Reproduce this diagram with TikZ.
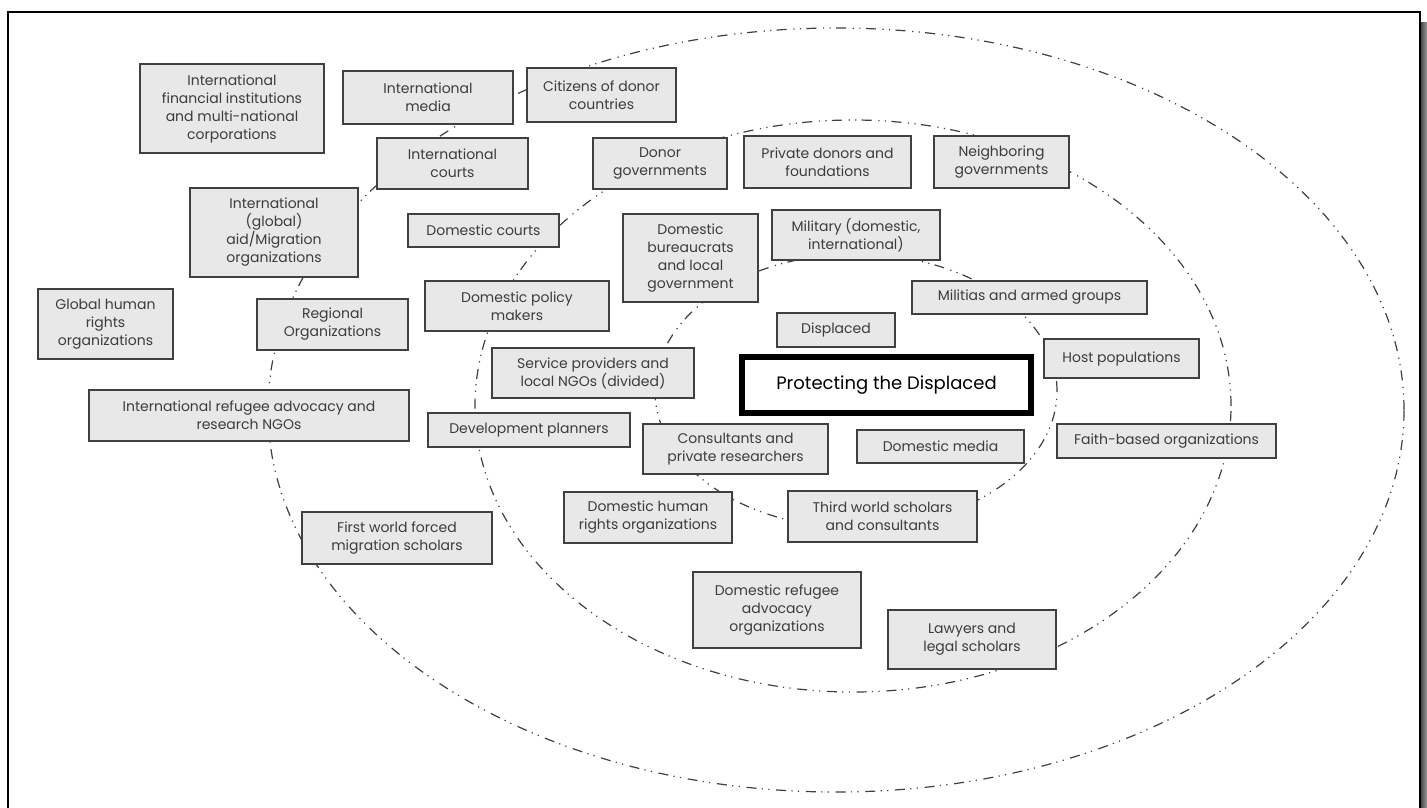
\documentclass[tikz,border=0pt]{standalone}
\usepackage{fontspec}
\setmainfont{Poppins}
\usetikzlibrary{positioning}
\definecolor{boxfill}{RGB}{232,232,232}
\definecolor{boxline}{RGB}{64,64,64}
\definecolor{boxtext}{RGB}{60,60,60}
\tikzset{
  gbox/.style={draw=boxline, fill=boxfill, line width=1.1pt, inner sep=0pt,
    align=center, text=boxtext, font=\fontsize{10.5}{13.5}\selectfont},
  mainbox/.style={draw=black, fill=white, line width=3.8pt, inner sep=0pt,
    align=center, text=black, font=\fontsize{13.5}{16}\selectfont},
  ring/.style={draw=black!75, line width=0.9pt,
    dash pattern=on 7.5pt off 4pt on 0.9pt off 4pt on 0.9pt off 5pt},
}
\newcommand\mybx[7][gbox]{%
  \pgfmathsetmacro\bxcx{(#3+#5)/2}%
  \pgfmathsetmacro\bxcy{(#4+#6)/2}%
  \pgfmathsetmacro\bxw{(#5-#3)*0.75}%
  \pgfmathsetmacro\bxh{(#6-#4)*0.75}%
  \node[#1, minimum width=\bxw pt, minimum height=\bxh pt] (#2) at (\bxcx,\bxcy) {#7};}
\begin{document}
\begin{tikzpicture}[x=0.75pt, y=-0.75pt]
\useasboundingbox (0,0) rectangle (1427,807);
\fill[white] (0,0) rectangle (1427,807);
% frame and shadow
\fill[left color=black!70, right color=black!40] (1421,22) rectangle (1427,807);
\draw[line width=1.1pt] (8,808) -- (8,12) -- (1420,12) -- (1420,808);
% rings
\draw[ring] (836,410) ellipse [x radius=426pt, y radius=286.5pt];
\draw[ring] (853,406) ellipse [x radius=283.5pt, y radius=214.5pt];
\draw[ring] (856,391) ellipse [x radius=150.75pt, y radius=102.75pt];
% boxes
\mybx{ifi}{140}{64}{324}{153}{International\\financial institutions\\and multi-national\\corporations}
\mybx{imedia}{343}{71}{513}{124}{International\\media}
\mybx{citizens}{527}{68}{676}{122}{Citizens of donor\\countries}
\mybx{icourts}{377}{138}{528}{189}{International\\courts}
\mybx{donorgov}{593}{138}{727}{189}{Donor\\governments}
\mybx{private}{744}{136}{911}{188}{Private donors and\\foundations}
\mybx{neighbor}{934}{136}{1069}{188}{Neighboring\\governments}
\mybx{igo}{190}{188}{358}{277}{International\\(global)\\aid/Migration\\organizations}
\mybx{dcourts}{408}{214}{559}{247}{Domestic courts}
\mybx{bureau}{623}{214}{758}{302}{Domestic\\bureaucrats\\and local\\government}
\mybx{military}{772}{210}{940}{260}{Military (domestic,\\international)}
\mybx{militias}{912}{281}{1147}{314}{Militias and armed groups}
\mybx{ghr}{38}{289}{173}{359}{Global human\\rights\\organizations}
\mybx{regional}{257}{299}{408}{350}{Regional\\Organizations}
\mybx{policy}{425}{281}{609}{331}{Domestic policy\\makers}
\mybx{displaced}{777}{313}{895}{347}{Displaced}
\mybx{host}{1044}{339}{1199}{378}{Host populations}
\mybx{service}{492}{348}{694}{398}{Service providers and\\local NGOs (divided)}
\mybx[mainbox]{protect}{742}{357}{1031}{413}{Protecting the Displaced}
\mybx{irngo}{89}{390}{409}{441}{International refugee advocacy and\\research NGOs}
\mybx{devplan}{428}{413}{630}{447}{Development planners}
\mybx{consult}{643}{424}{828}{474}{Consultants and\\private researchers}
\mybx{dmedia}{857}{430}{1024}{463}{Domestic media}
\mybx{faith}{1057}{424}{1276}{458}{Faith-based organizations}
\mybx{dhr}{564}{492}{732}{543}{Domestic human\\rights organizations}
\mybx{third}{788}{491}{977}{542}{Third world scholars\\and consultants}
\mybx{firstw}{302}{512}{492}{564}{First world forced\\migration scholars}
\mybx{drefugee}{693}{572}{861}{648}{Domestic refugee\\advocacy\\organizations}
\mybx{lawyers}{888}{610}{1056}{669}{Lawyers and\\legal scholars}
\end{tikzpicture}
\end{document}
